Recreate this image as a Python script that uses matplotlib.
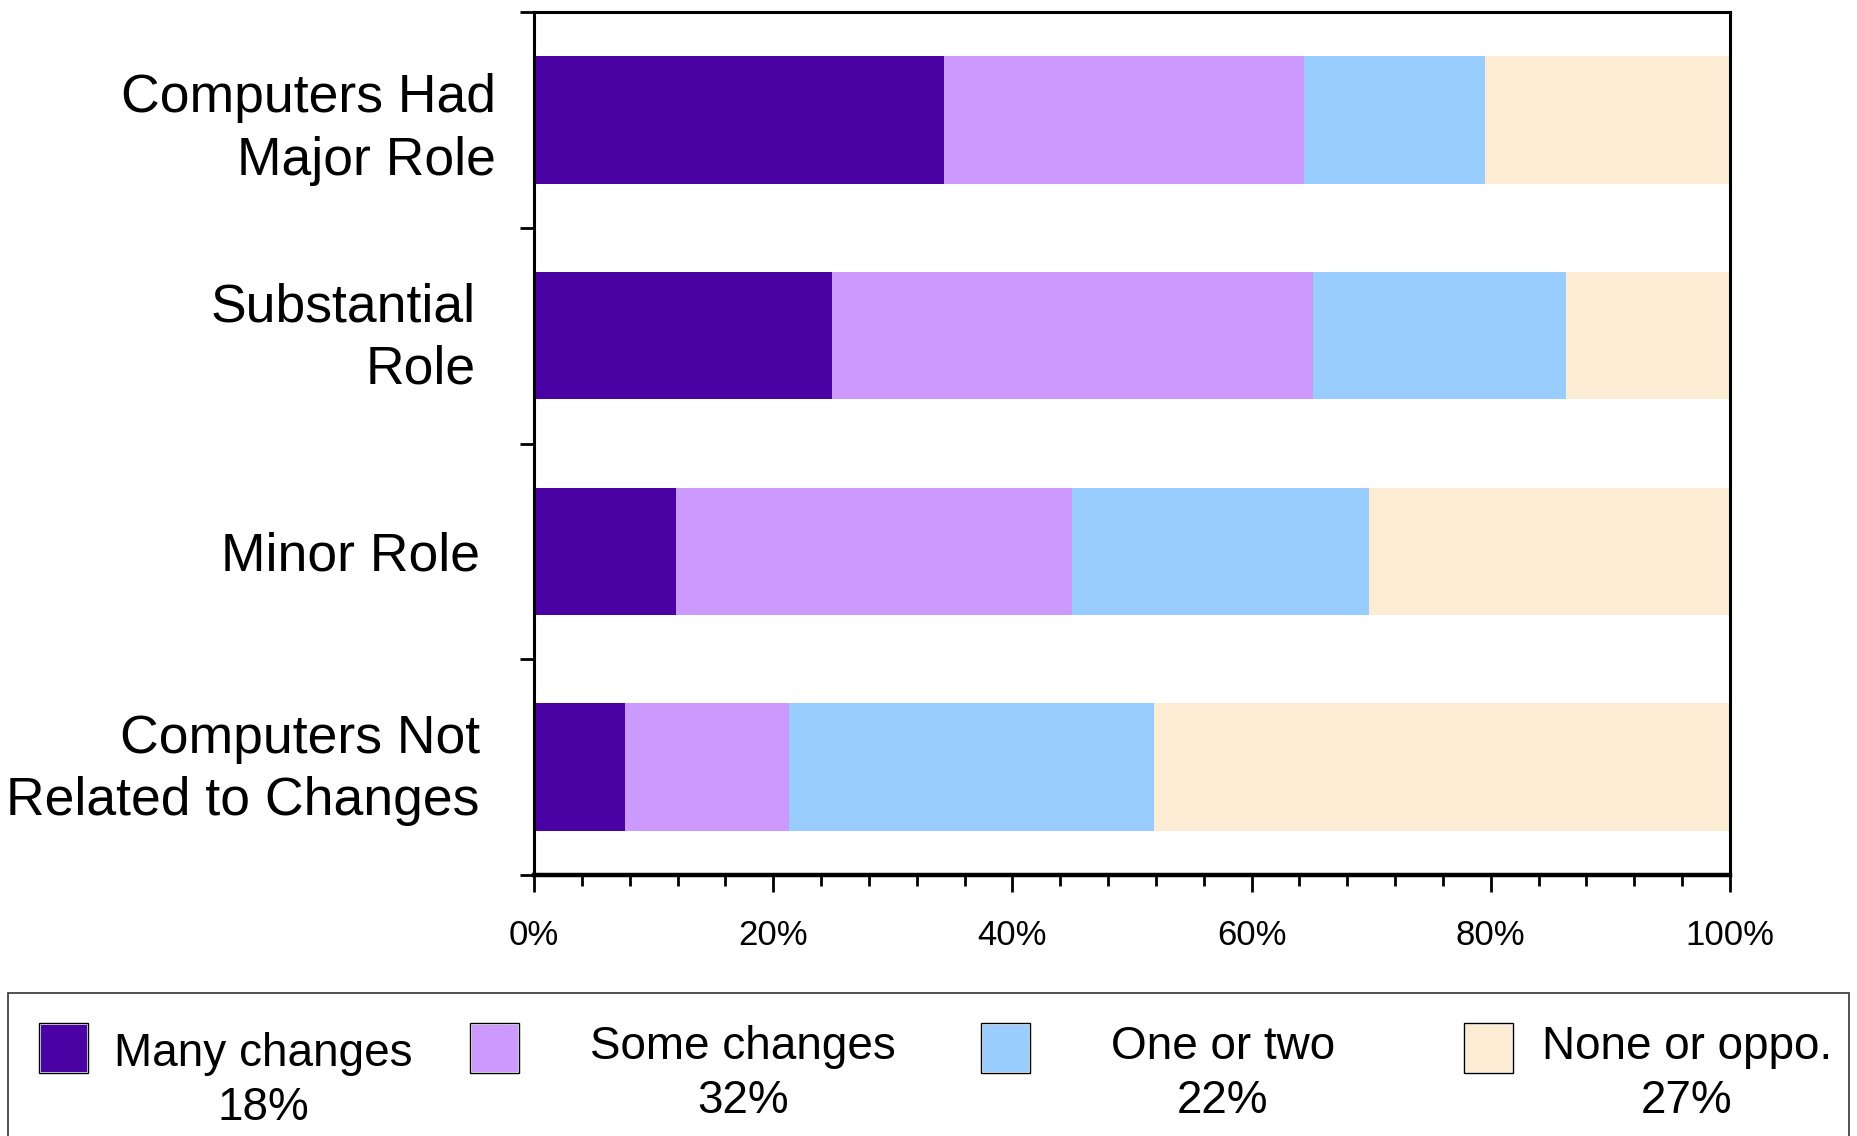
import matplotlib.pyplot as plt
import numpy as np
from matplotlib.patches import Rectangle
from matplotlib.transforms import ScaledTranslation

plt.rcParams['font.family'] = ['Liberation Sans', 'DejaVu Sans']

# categories drawn top to bottom
categories = ['Computers Had\nMajor Role', 'Substantial\nRole', 'Minor Role',
              'Computers Not\nRelated to Changes']

# share of each response per category (percent)
many_changes = [34.3, 24.9, 11.9, 7.6]
some_changes = [30.1, 40.2, 33.1, 13.7]
one_or_two = [15.1, 21.2, 24.8, 30.5]
none_or_opp = [20.5, 13.7, 30.2, 48.2]

series_names = ['Many changes', 'Some changes', 'One or two', 'None or oppo.']
overall_pct = [18, 32, 22, 27]
colors = ['#4A02A5', '#CC99FF', '#99CCFF', '#FBECD3']

W, H = 1858, 1136
fig = plt.figure(figsize=(W / 100, H / 100), dpi=100)
ax = fig.add_axes([534 / W, 1 - 875 / H, (1730 - 534) / W, (875 - 12) / H])

y = np.arange(len(categories))
left = np.zeros(len(categories))
for vals, col in zip([many_changes, some_changes, one_or_two, none_or_opp], colors):
    ax.barh(y, vals, left=left, height=0.59, color=col, edgecolor='none', zorder=2)
    left += np.array(vals)

ax.set_xlim(0, 100)
ax.set_ylim(len(categories) - 0.5, -0.5)

# x axis: labelled every 20%, small ticks every 4%
ax.set_xticks(np.arange(0, 101, 20))
ax.set_xticklabels([f'{v}%' for v in range(0, 101, 20)], fontsize=25)
ax.set_xticks(np.arange(0, 101, 4), minor=True)
ax.tick_params(axis='x', which='major', direction='out', length=12, width=2, pad=20)
ax.tick_params(axis='x', which='minor', direction='out', length=8, width=2)

# y axis: labels at bar centres, ticks on the category boundaries
ax.set_yticks(y)
ax.set_yticklabels(categories, fontsize=38.5, ha='right', multialignment='right',
                   linespacing=1.32)
ax.tick_params(axis='y', which='major', length=0, pad=39)
ax.set_yticks(np.arange(-0.5, len(categories)), minor=True)
ax.tick_params(axis='y', which='minor', direction='out', length=10, width=2)

shifts = [16, -4, 0, 0]
dys = [2, 9, 0, 9]
for lab, dx, dy in zip(ax.get_yticklabels(), shifts, dys):
    lab.set_transform(lab.get_transform() + ScaledTranslation(dx / 100, dy / 100, fig.dpi_scale_trans))

for side in ['left', 'top', 'right']:
    ax.spines[side].set_linewidth(2.2)
ax.spines['bottom'].set_linewidth(3.2)

# legend box along the bottom edge
fig.patches.append(Rectangle((8 / W, -0.05), (1849 - 8) / W, (1136 - 993) / H + 0.05,
                             transform=fig.transFigure, facecolor='white',
                             edgecolor='#333333', linewidth=1.2))

patch_x = [39, 470, 981, 1464]
text_x = [263, 743, 1223, 1687]
text_y = [1081, 1074, 1074, 1074]
for px, tx, ty, name, pct, col in zip(patch_x, text_x, text_y, series_names, overall_pct, colors):
    fig.patches.append(Rectangle((px / W, 1 - 1073 / H), 49 / W, 50 / H,
                                 transform=fig.transFigure, facecolor=col,
                                 edgecolor='white', linewidth=2))
    fig.patches.append(Rectangle((px / W, 1 - 1073 / H), 49 / W, 50 / H,
                                 transform=fig.transFigure, facecolor='none',
                                 edgecolor='black', linewidth=1))
    fig.text(tx / W, 1 - ty / H, f'{name}\n{pct}%', fontsize=33, ha='center', va='center',
             multialignment='center', linespacing=1.27)

fig.savefig('out.png', dpi=100)
